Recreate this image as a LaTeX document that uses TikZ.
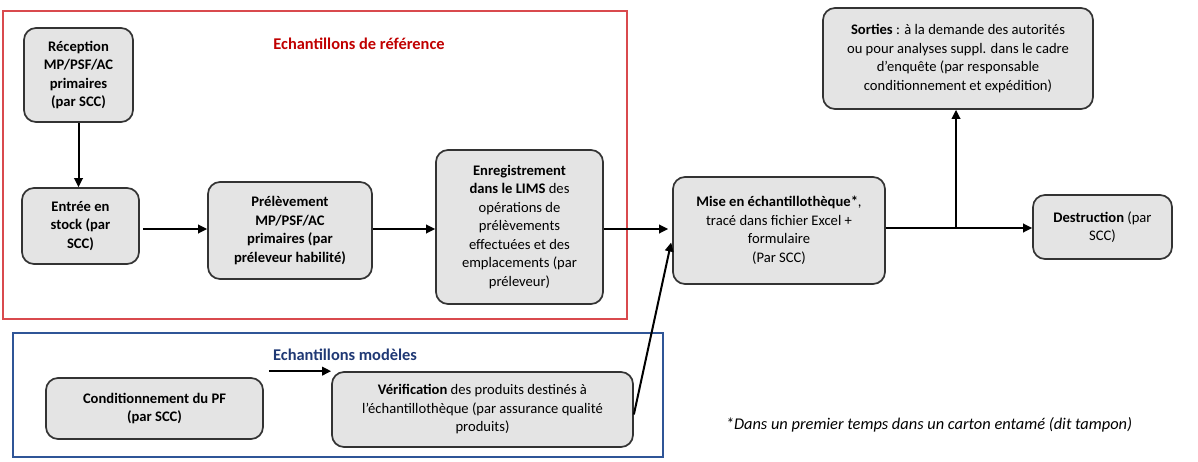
\documentclass[tikz,border=0pt]{standalone}
\usepackage{fontspec}
\setmainfont{Carlito}
\usetikzlibrary{arrows.meta}
\definecolor{boxfill}{HTML}{E4E4E4}
\definecolor{boxline}{HTML}{333333}
\definecolor{redframe}{HTML}{D94A4E}
\definecolor{redtitle}{HTML}{C00000}
\definecolor{blueframe}{HTML}{2F5597}
\definecolor{bluetitle}{HTML}{1F3874}
\tikzset{
  procbox/.style={draw=boxline, fill=boxfill, line width=1.7pt, rounded corners=12pt,
    align=center, inner sep=2pt, font=\fontsize{14.6}{18.5}\selectfont},
  arr/.style={-{Triangle[length=9pt,width=8.5pt]}, line width=2pt, black},
  plain/.style={line width=2pt, black},
  frametitle/.style={font=\fontsize{16.4}{19}\selectfont\bfseries, inner sep=0pt},
  frame/.style={line width=1.2pt},
}
\begin{document}
\begin{tikzpicture}[x=1pt,y=-1pt]
\useasboundingbox (0,0) rectangle (1198,461);
% frames
\draw[frame, draw=redframe] (3,11) rectangle (627,319);
\draw[frame, draw=blueframe] (13,333) rectangle (663,457);
\node[frametitle, text=redtitle] (t1) at (359,44) {Echantillons de référence};
\node[frametitle, text=bluetitle] (t2) at (345,355) {Echantillons modèles};
% boxes
\node[procbox, minimum width=109pt, minimum height=94pt] (recep) at (78.5,75)
  {\bfseries Réception\\\bfseries MP/PSF/AC\\\bfseries primaires\\\bfseries (par SCC)};
\node[procbox, minimum width=117pt, minimum height=76pt] (entree) at (80.5,226)
  {\bfseries Entrée en\\\bfseries stock (par\\\bfseries SCC)};
\node[procbox, minimum width=164pt, minimum height=97pt] (prelev) at (290,230.5)
  {\bfseries Prélèvement\\\bfseries MP/PSF/AC\\\bfseries primaires (par\\\bfseries préleveur habilité)};
\node[procbox, minimum width=167pt, minimum height=154pt] (enreg) at (519.5,227)
  {\textbf{Enregistrement}\\\textbf{dans le LIMS} des\\opérations de\\prélèvements\\effectuées et des\\emplacements (par\\préleveur)};
\node[procbox, minimum width=212pt, minimum height=107pt] (mise) at (779,230.5)
  {\textbf{Mise en échantillothèque*},\\tracé dans fichier Excel +\\formulaire\\(Par SCC)};
\node[procbox, minimum width=270pt, minimum height=101pt] (sorties) at (958,58.5)
  {\textbf{Sorties} : à la demande des autorités\\ou pour analyses suppl. dans le cadre\\d’enquête (par responsable\\conditionnement et expédition)};
\node[procbox, minimum width=139pt, minimum height=64pt] (dest) at (1102.5,227)
  {\textbf{Destruction} (par\\SCC)};
\node[procbox, minimum width=217pt, minimum height=61pt] (cond) at (154.5,408.5)
  {\bfseries Conditionnement du PF\\\bfseries (par SCC)};
\node[procbox, minimum width=301pt, minimum height=75pt] (verif) at (482.5,409.5)
  {\textbf{Vérification} des produits destinés à\\l’échantillothèque (par assurance qualité\\produits)};
\node[font=\fontsize{16.4}{18}\selectfont\itshape, inner sep=0pt] (note) at (929,425)
  {*Dans un premier temps dans un carton entamé (dit tampon)};
% helper coordinates
\coordinate (row) at ([yshift=-3pt]entree.east);
\coordinate (drow) at ([yshift=-1pt]dest.west);
\coordinate (branch) at ([xshift=-2pt]sorties.south |- drow);
% connectors
\draw[arr] (recep.south) -- (recep.south |- entree.north);
\draw[arr] ([xshift=3pt]row) -- (prelev.west |- row);
\draw[arr] (prelev.east |- row) -- (enreg.west |- row);
\draw[arr] (enreg.east |- row) -- ([xshift=-4pt]mise.west |- row);
\draw[plain] (mise.east |- drow) -- (branch);
\draw[arr] (branch) -- (dest.west |- drow);
\draw[arr] (branch) -- ([xshift=-2pt]sorties.south);
\draw[arr] ([yshift=-5pt]verif.east) -- ([xshift=-1pt,yshift=-12pt]mise.west);
\draw[arr] ([xshift=5pt,yshift=6pt]cond.north east) -- (verif.north west);
\end{tikzpicture}
\end{document}
